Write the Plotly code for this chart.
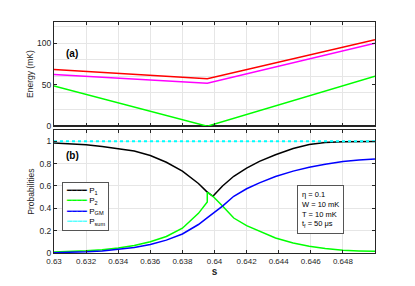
import plotly.graph_objects as go

# ---------------- data ----------------
# (a) energies (mK)
s_energy = [0.63, 0.63955, 0.65]
E_red = [68.3, 57.2, 104.0]
E_magenta = [62.3, 51.6, 100.0]
E_green = [48.3, 0.0, 60.3]
E_ground = [0.0, 0.0, 0.0]

# (b) probabilities
s_p1 = [0.630, 0.631, 0.632, 0.633, 0.634, 0.635, 0.636, 0.637, 0.638, 0.639, 0.6395,
        0.6399, 0.6405, 0.6412, 0.642, 0.6428, 0.6438, 0.6449, 0.6459, 0.6469, 0.648, 0.649, 0.65]
p1 = [0.985, 0.978, 0.968, 0.953, 0.934, 0.912, 0.872, 0.812, 0.732, 0.622, 0.552,
      0.508, 0.600, 0.687, 0.760, 0.820, 0.880, 0.935, 0.972, 0.988, 0.995, 0.998, 0.999]

s_p2 = [0.630, 0.631, 0.632, 0.633, 0.634, 0.635, 0.636, 0.637, 0.638, 0.639, 0.63955,
        0.63955, 0.6399, 0.6405, 0.6412, 0.642, 0.6428, 0.6438, 0.6449, 0.6459, 0.6469, 0.648, 0.649, 0.65]
p2 = [0.008, 0.013, 0.020, 0.030, 0.045, 0.068, 0.100, 0.148, 0.222, 0.355, 0.457,
      0.543, 0.508, 0.420, 0.313, 0.245, 0.194, 0.134, 0.090, 0.060, 0.040, 0.025, 0.019, 0.015]

s_pgm = [0.630, 0.631, 0.632, 0.633, 0.634, 0.635, 0.636, 0.637, 0.638, 0.639, 0.6395,
         0.6405, 0.6412, 0.642, 0.6428, 0.6438, 0.6449, 0.6459, 0.6469, 0.648, 0.649, 0.65]
pgm = [0.003, 0.006, 0.011, 0.019, 0.032, 0.050, 0.076, 0.115, 0.170, 0.255, 0.310,
       0.420, 0.508, 0.575, 0.628, 0.685, 0.733, 0.768, 0.795, 0.818, 0.832, 0.842]

s_sum = [0.63, 0.65]
psum = [1.0, 1.0]

x_tickvals = [0.63, 0.632, 0.634, 0.636, 0.638, 0.64, 0.642, 0.644, 0.646, 0.648]
x_ticktext = ["0.63", "0.632", "0.634", "0.636", "0.638", "0.64", "0.642", "0.644", "0.646", "0.648"]
ya_tickvals = [0, 50, 100]
ya_grid = [20, 40, 60, 80, 100, 120]
yb_tickvals = [0, 0.2, 0.4, 0.6, 0.8, 1]
yb_ticktext = ["0", "0.2", "0.4", "0.6", "0.8", "1"]

series_names = ["P<sub>1</sub>", "P<sub>2</sub>", "P<sub>GM</sub>", "P<sub>sum</sub>"]
series_colors = ["#000000", "#00ff00", "#0000ff", "#00ffff"]
series_glyphs = ["━━━━", "━━━━", "━━━━", "┉┉┉┉"]

# ---------------- figure ----------------
FONT = "Liberation Sans, Arial, sans-serif"
AX = "#262626"
GRID = "#e6e6e6"
LW = 1.5

fig = go.Figure()
fig.add_trace(go.Scatter(x=s_energy, y=E_ground, mode="lines", line=dict(color="#222222", width=2.5),
                         xaxis="x", yaxis="y", showlegend=False))
fig.add_trace(go.Scatter(x=s_energy, y=E_red, mode="lines", line=dict(color="#ff0000", width=LW),
                         xaxis="x", yaxis="y", showlegend=False))
fig.add_trace(go.Scatter(x=s_energy, y=E_magenta, mode="lines", line=dict(color="#ff00ff", width=LW),
                         xaxis="x", yaxis="y", showlegend=False))
fig.add_trace(go.Scatter(x=s_energy, y=E_green, mode="lines", line=dict(color="#00ff00", width=LW),
                         xaxis="x", yaxis="y", showlegend=False))

fig.add_trace(go.Scatter(x=s_p1, y=p1, mode="lines", name=series_names[0], showlegend=False,
                         line=dict(color=series_colors[0], width=LW), xaxis="x2", yaxis="y2"))
fig.add_trace(go.Scatter(x=s_p2, y=p2, mode="lines", name=series_names[1], showlegend=False,
                         line=dict(color=series_colors[1], width=LW), xaxis="x2", yaxis="y2"))
fig.add_trace(go.Scatter(x=s_pgm, y=pgm, mode="lines", name=series_names[2], showlegend=False,
                         line=dict(color=series_colors[2], width=LW), xaxis="x2", yaxis="y2"))
fig.add_trace(go.Scatter(x=s_sum, y=psum, mode="lines", name=series_names[3], showlegend=False,
                         line=dict(color=series_colors[3], width=2, dash="dot"), xaxis="x2", yaxis="y2"))

common_x = dict(range=[0.63, 0.65], tickvals=x_tickvals, ticks="inside", ticklen=3,
                tickcolor=AX, showline=True, linecolor=AX, linewidth=1, mirror="ticks",
                showgrid=True, gridcolor=GRID, zeroline=False, tickfont=dict(size=8))

fig.update_layout(
    width=415, height=286,
    margin=dict(l=54, r=40, t=22, b=31),
    paper_bgcolor="white", plot_bgcolor="white",
    font=dict(family=FONT, size=8, color=AX),
    xaxis=dict(common_x, domain=[0, 1], anchor="y", showticklabels=False),
    yaxis=dict(domain=[0.549, 1], anchor="x", range=[0, 125.5], tickvals=ya_tickvals,
               ticks="inside", ticklen=3, tickcolor=AX, showline=True, linecolor=AX,
               linewidth=1, mirror="ticks", showgrid=False, zeroline=False,
               tickfont=dict(size=8.5),
               minor=dict(tickmode="array", tickvals=ya_grid, showgrid=True, gridcolor=GRID, ticks=""),
               title=dict(text="Energy (mK)", standoff=2, font=dict(size=8.5))),
    xaxis2=dict(common_x, domain=[0, 1], anchor="y2", ticktext=x_ticktext,
                title=dict(text="<b>s</b>", standoff=1, font=dict(size=10))),
    yaxis2=dict(domain=[0, 0.532], anchor="x2", range=[0, 1.1], tickvals=yb_tickvals,
                ticktext=yb_ticktext, ticks="inside", ticklen=3, tickcolor=AX, showline=True,
                linecolor=AX, linewidth=1, mirror="ticks", showgrid=True, gridcolor=GRID,
                zeroline=False, tickfont=dict(size=8.5),
                title=dict(text="Probabilities", standoff=3, font=dict(size=8.5))),
    showlegend=False,
)

legend_text = "<br>".join(
    f'<span style="color:{c}">{g}</span> {n}'
    for n, c, g in zip(series_names, series_colors, series_glyphs)
)
fig.add_annotation(text=legend_text, xref="x2 domain", yref="y2 domain", x=0.024, y=0.578,
                   showarrow=False, xanchor="left", yanchor="top", align="left",
                   bgcolor="white", bordercolor="#555555", borderwidth=1, borderpad=3,
                   font=dict(size=8, color="#000000"))

fig.add_annotation(text="<b>(a)</b>", xref="x domain", yref="y domain", x=0.03, y=0.7,
                   showarrow=False, xanchor="left", yanchor="middle",
                   font=dict(size=10, color="#000000"))
fig.add_annotation(text="<b>(b)</b>", xref="x2 domain", yref="y2 domain", x=0.03, y=0.79,
                   showarrow=False, xanchor="left", yanchor="middle",
                   font=dict(size=10, color="#000000"))
fig.add_annotation(text="η = 0.1<br>W = 10 mK<br>T = 10 mK<br>t<sub>f</sub> = 50 μs",
                   xref="x2 domain", yref="y2 domain", x=0.756, y=0.55,
                   showarrow=False, xanchor="left", yanchor="top", align="left",
                   bgcolor="white", bordercolor="#555555", borderwidth=1, borderpad=4,
                   font=dict(size=7.5, color="#000000"))

fig.write_html("out.html", config={"displayModeBar": False},
               post_script="document.body.style.margin='0';document.body.style.padding='0';")
